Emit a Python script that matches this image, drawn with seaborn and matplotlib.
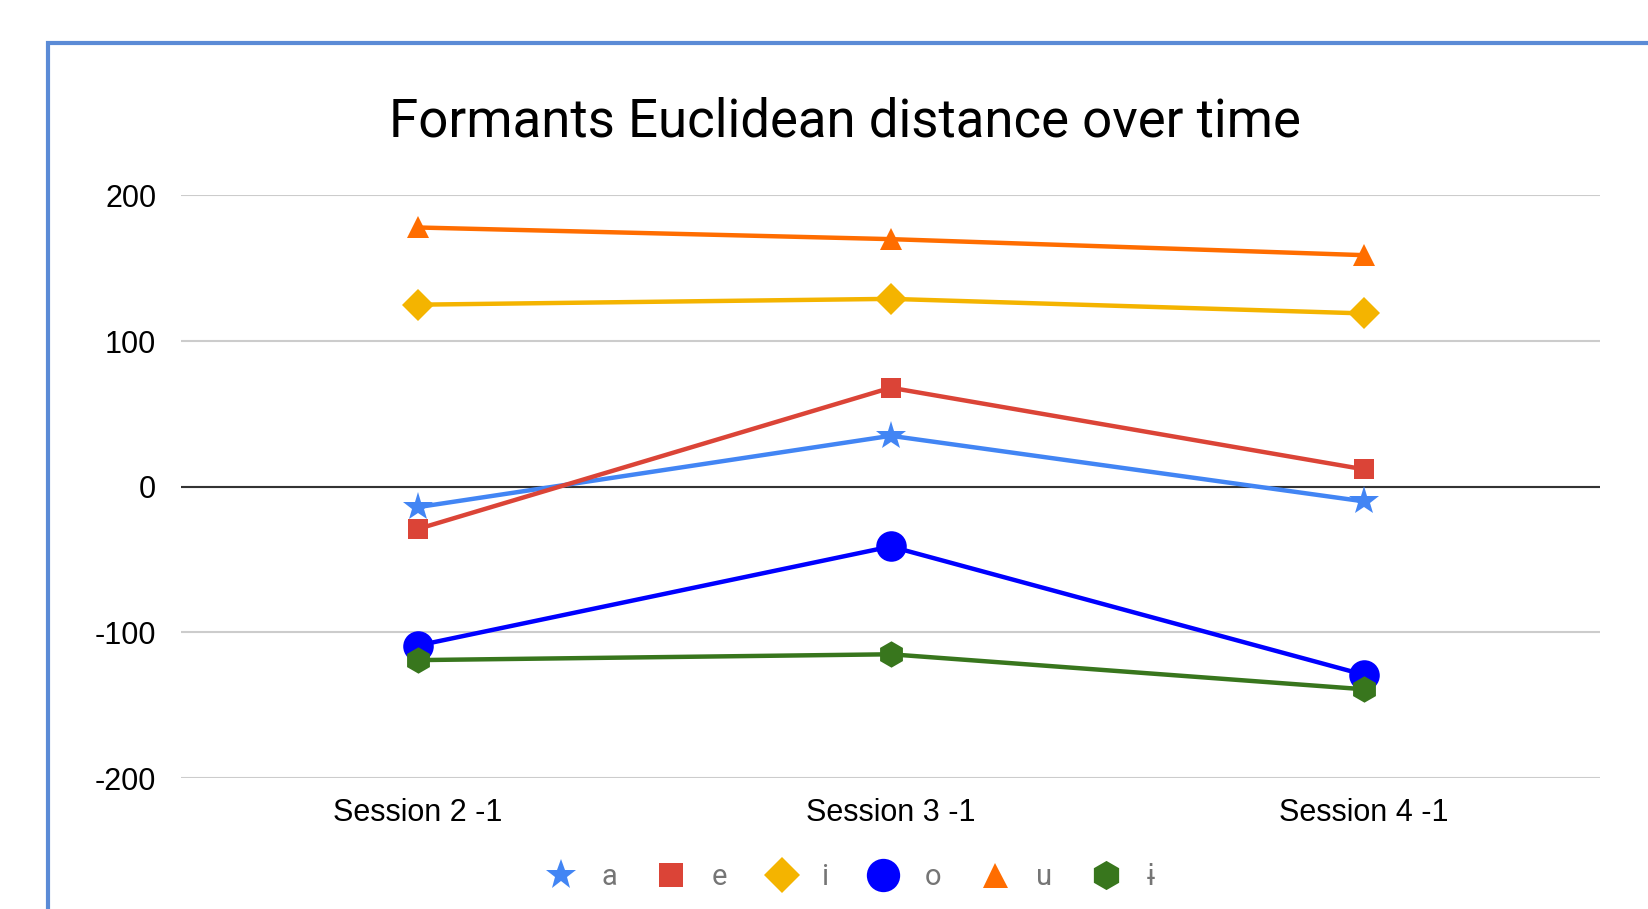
import numpy as np
import pandas as pd
import matplotlib
matplotlib.use("Agg")
import matplotlib.pyplot as plt
import seaborn as sns
from matplotlib.lines import Line2D
from matplotlib.patches import Rectangle

sessions = ['Session 2 -1', 'Session 3 -1', 'Session 4 -1']
vowels = ['a', 'e', 'i', 'o', 'u', 'ɨ']
a_vals = [-14, 35, -10]
e_vals = [-29, 68, 12]
i_vals = [125, 129, 119]
o_vals = [-109, -41, -129]
u_vals = [178, 170, 159]
ih_vals = [-119, -115, -139]

colors = ['#4285F4', '#DB4437', '#F4B400', '#0000FF', '#FF6D00', '#38761D']
markers = ['*', 's', 'D', 'o', '^', 'h']
msizes = [22, 15, 16, 22, 16, 19]
leg_sizes = [23, 17, 18, 24, 18, 21]

values = [a_vals, e_vals, i_vals, o_vals, u_vals, ih_vals]
df = pd.DataFrame({
    'session': sessions * len(vowels),
    'vowel': np.repeat(vowels, len(sessions)),
    'dist': np.concatenate(values),
})

sns.set_style('white')
plt.rcParams['font.family'] = ['Liberation Sans', 'DejaVu Sans']
plt.rcParams['axes.unicode_minus'] = False

fig = plt.figure(figsize=(16.48, 9.09), dpi=100)
ax = fig.add_axes([0.110, 0.144, 0.861, 0.641])

for v, c, m, s in zip(vowels, colors, markers, msizes):
    sub = df[df['vowel'] == v]
    sns.lineplot(data=sub, x='session', y='dist', color=c, marker=m,
                 markersize=s, markeredgewidth=0, linewidth=3.2, ax=ax,
                 zorder=3)

ax.set_xlim(-0.5, 2.5)
ax.set_ylim(-200, 200)
ax.set_yticks([-200, -100, 0, 100, 200])
ax.yaxis.grid(True, color='#cccccc', linewidth=1.5)
ax.axhline(0, color='#333333', linewidth=1.5, zorder=2)
for sp in ax.spines.values():
    sp.set_visible(False)
ax.set_xlabel('')
ax.set_ylabel('')
ax.tick_params(axis='both', length=0, labelsize=22, colors='#000000')
ax.tick_params(axis='y', pad=18)
ax.tick_params(axis='x', pad=14)

fig.text(0.513, 0.866, 'Formants Euclidean distance over time', color='#000000',
         ha='center', va='center', fontsize=38, family=['Roboto', 'DejaVu Sans'])

handles = [Line2D([], [], linestyle='none', marker=m, color=c, markersize=s,
                  markeredgewidth=0) for c, m, s in zip(colors, markers, leg_sizes)]
leg = fig.legend(handles, vowels, loc='center', bbox_to_anchor=(0.516, 0.035),
                 ncol=6, frameon=False, handlelength=1.0, handletextpad=0.9,
                 columnspacing=1.35, prop={'family': ['Roboto', 'DejaVu Sans'], 'size': 21})
for t in leg.get_texts():
    t.set_color('#757575')

fig.patches.append(Rectangle((0.029, -0.05), 1.1, 1.003, transform=fig.transFigure,
                             fill=False, edgecolor='#5B8BD6', linewidth=3))

fig.savefig('out.png', dpi=100)
